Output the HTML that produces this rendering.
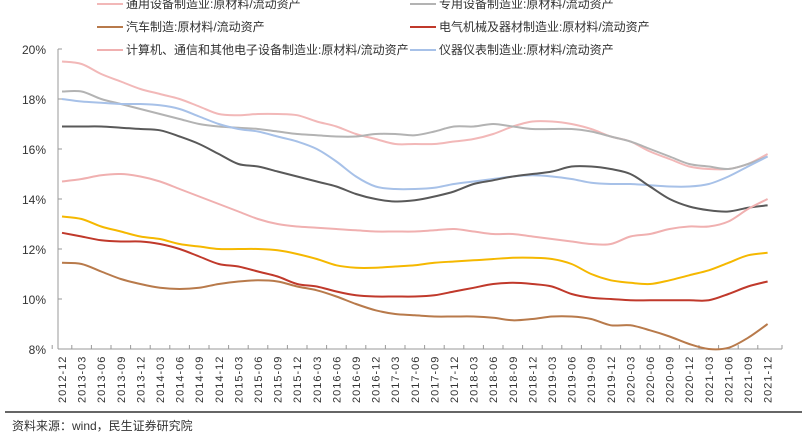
<!DOCTYPE html>
<html><head><meta charset="utf-8"><style>
body{margin:0;background:#fff;}
svg text{font-family:"Liberation Sans","Noto Sans CJK SC",sans-serif;}
</style></head><body>
<svg id="c" width="802" height="436" xmlns="http://www.w3.org/2000/svg"></svg>
<script>
const categories=["2012-12","2013-03","2013-06","2013-09","2013-12","2014-03","2014-06","2014-09","2014-12","2015-03","2015-06","2015-09","2015-12","2016-03","2016-06","2016-09","2016-12","2017-03","2017-06","2017-09","2017-12","2018-03","2018-06","2018-09","2018-12","2019-03","2019-06","2019-09","2019-12","2020-03","2020-06","2020-09","2020-12","2021-03","2021-06","2021-09","2021-12"];
const yTicks=[8,10,12,14,16,18,20];
const tongyong=[19.5,19.4,19.0,18.7,18.4,18.2,18.0,17.7,17.4,17.35,17.4,17.4,17.35,17.1,16.9,16.6,16.4,16.2,16.2,16.2,16.3,16.4,16.6,16.9,17.1,17.1,17.0,16.8,16.5,16.3,15.9,15.6,15.3,15.2,15.2,15.4,15.8];
const zhuanyong=[18.3,18.3,18.0,17.8,17.6,17.4,17.2,17.0,16.9,16.85,16.8,16.7,16.6,16.55,16.5,16.5,16.6,16.6,16.55,16.7,16.9,16.9,17.0,16.9,16.8,16.8,16.8,16.7,16.5,16.3,16.0,15.7,15.4,15.3,15.2,15.4,15.7];
const yiqi=[18.0,17.9,17.85,17.8,17.8,17.75,17.6,17.3,17.0,16.8,16.7,16.5,16.3,16.0,15.5,14.9,14.5,14.4,14.4,14.45,14.6,14.7,14.8,14.9,14.95,14.9,14.8,14.65,14.6,14.6,14.55,14.5,14.5,14.6,14.9,15.3,15.7];
const darkgray=[16.9,16.9,16.9,16.85,16.8,16.75,16.5,16.2,15.8,15.4,15.3,15.1,14.9,14.7,14.5,14.2,14.0,13.9,13.95,14.1,14.3,14.6,14.75,14.9,15.0,15.1,15.3,15.3,15.2,15.0,14.5,14.0,13.7,13.55,13.5,13.65,13.75];
const jisuanji=[14.7,14.8,14.95,15.0,14.9,14.7,14.4,14.1,13.8,13.5,13.2,13.0,12.9,12.85,12.8,12.75,12.7,12.7,12.7,12.75,12.8,12.7,12.6,12.6,12.5,12.4,12.3,12.2,12.2,12.5,12.6,12.8,12.9,12.9,13.1,13.6,14.0];
const yellow=[13.3,13.2,12.9,12.7,12.5,12.4,12.2,12.1,12.0,12.0,12.0,11.95,11.8,11.6,11.35,11.25,11.25,11.3,11.35,11.45,11.5,11.55,11.6,11.65,11.65,11.6,11.4,11.0,10.75,10.65,10.6,10.75,10.95,11.15,11.45,11.75,11.85];
const dianqi=[12.65,12.5,12.35,12.3,12.3,12.2,12.0,11.7,11.4,11.3,11.1,10.9,10.6,10.5,10.3,10.15,10.1,10.1,10.1,10.15,10.3,10.45,10.6,10.65,10.6,10.5,10.2,10.05,10.0,9.95,9.95,9.95,9.95,9.95,10.2,10.5,10.7];
const qiche=[11.45,11.4,11.1,10.8,10.6,10.45,10.4,10.45,10.6,10.7,10.75,10.7,10.5,10.35,10.1,9.8,9.55,9.4,9.35,9.3,9.3,9.3,9.25,9.15,9.2,9.3,9.3,9.2,8.95,8.95,8.75,8.5,8.2,8.0,8.05,8.45,9.0];
const svg=document.getElementById('c');const NS="http://www.w3.org/2000/svg";
function el(t,a){const e=document.createElementNS(NS,t);for(const k in a)e.setAttribute(k,a[k]);svg.appendChild(e);return e;}
const X0=62,DX=19.6,Y20=49,Y8=349;
const xs=i=>X0+i*DX;
const ys=v=>Y8-(v-8)/12*(Y8-Y20);
function smooth(d){
 const p=d.map((v,i)=>[xs(i),ys(v)]);
 let s='M'+p[0][0].toFixed(1)+','+p[0][1].toFixed(1);
 for(let i=0;i<p.length-1;i++){
  const a=p[i-1]||p[i],b=p[i],c=p[i+1],n=p[i+2]||c;
  const c1=[b[0]+(c[0]-a[0])/6,b[1]+(c[1]-a[1])/6],c2=[c[0]-(n[0]-b[0])/6,c[1]-(n[1]-b[1])/6];
  s+='C'+c1.map(q=>q.toFixed(1)).join(',')+' '+c2.map(q=>q.toFixed(1)).join(',')+' '+c[0].toFixed(1)+','+c[1].toFixed(1);
 }
 return s;
}
let e=el('line',{x1:58,y1:Y20,x2:58,y2:Y8,stroke:'#999'});


e=el('line',{x1:58,y1:Y8,x2:782,y2:Y8,stroke:'#999'});


yTicks.forEach(v=>{
 const t=el('text',{x:46,y:ys(v)+5,'text-anchor':'end','font-size':12,fill:'#333'});t.textContent=v+'%';
 
 
 el('line',{x1:58,y1:ys(v),x2:62,y2:ys(v),stroke:'#999'});
});
categories.forEach((c,i)=>{
 const x=xs(i);
 el('line',{x1:x-DX/2,y1:Y8,x2:x-DX/2,y2:Y8-4,stroke:'#999'});
 const t=el('text',{x:0,y:0,'font-size':11,fill:'#333','letter-spacing':'1',transform:`translate(${x+4},403) rotate(-90)`});t.textContent=c;
 
 
});
el('line',{x1:782,y1:Y8,x2:782,y2:Y8-4,stroke:'#999'});
const series=[[tongyong,'#f2b8b8','tongyong'],[zhuanyong,'#b3b3b3','zhuanyong'],[yiqi,'#a7c1e8','yiqi'],[darkgray,'#595959','darkgray'],[jisuanji,'#f0b0b0','jisuanji'],[yellow,'#f5b800','yellow'],[dianqi,'#c0392b','dianqi'],[qiche,'#b87a4b','qiche']];
series.forEach(([d,col,n])=>{
 const p=el('path',{d:smooth(d),fill:'none',stroke:col,'stroke-width':2,'stroke-linejoin':'round'});
 
 
});
const leg=[[97,4,'#f2b8b8','通用设备制造业:原材料/流动资产'],[410,4,'#b3b3b3','专用设备制造业:原材料/流动资产'],[97,27,'#b87a4b','汽车制造:原材料/流动资产'],[410,27,'#c0392b','电气机械及器材制造业:原材料/流动资产'],[97,50,'#f0b0b0','计算机、通信和其他电子设备制造业:原材料/流动资产'],[410,50,'#a7c1e8','仪器仪表制造业:原材料/流动资产']];
leg.forEach(([x,y,c,t])=>{
 const l=el('line',{x1:x,y1:y,x2:x+26,y2:y,stroke:c,'stroke-width':2});
 
 
 const tx=el('text',{x:x+29,y:y+4,'font-size':12,fill:'#333'});tx.textContent=t;
 
 
});
e=el('rect',{x:5,y:411,width:797,height:2,fill:'#666'});


e=el('text',{x:12,y:430,'font-size':12,fill:'#333'});e.textContent='资料来源：wind，民生证券研究院';


</script>
</body></html>
